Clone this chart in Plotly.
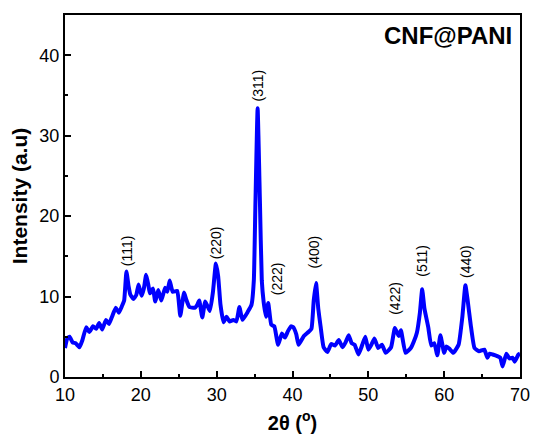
import plotly.graph_objects as go

# XRD pattern of CNF@PANI (2-theta in degrees, intensity in a.u.)
two_theta = [
    10.0, 10.3, 10.6, 11.0, 11.4, 11.9, 12.3, 12.8, 13.2, 13.7,
    14.1, 14.5, 14.9, 15.4, 15.8, 16.2, 16.7, 17.1, 17.5, 17.8,
    18.1, 18.4, 18.6, 19.0, 19.4, 19.7, 20.1, 20.4, 20.7, 21.0,
    21.2, 21.6, 21.9, 22.3, 22.7, 23.2, 23.5, 23.8, 24.2, 24.8,
    25.2, 25.7, 26.0, 26.4, 27.1, 27.4, 27.7, 28.1, 28.5, 29.1,
    29.5, 29.9, 30.2, 30.5, 30.9, 31.3, 31.7, 32.2, 32.6, 33.0,
    33.4, 34.1, 34.6, 34.9, 35.1, 35.4, 35.7, 35.95, 36.2, 36.5,
    36.8, 37.2, 37.6, 38.1, 38.6, 39.0, 39.4, 39.8, 40.1, 40.5,
    40.8, 41.5, 42.1, 42.5, 42.8, 43.1, 43.4, 43.7, 44.1, 44.6,
    45.1, 45.6, 46.1, 46.6, 47.0, 47.4, 47.8, 48.2, 48.7, 49.2,
    49.6, 50.0, 50.4, 50.8, 51.3, 51.8, 52.3, 53.0, 53.5, 54.0,
    54.3, 54.9, 55.6, 56.0, 56.4, 56.8, 57.1, 57.4, 57.9, 58.3,
    58.7, 59.1, 59.5, 60.0, 60.3, 60.7, 61.2, 61.9, 62.4, 62.8,
    63.1, 63.5, 64.0, 64.6, 65.3, 65.7, 66.0, 66.4, 67.0, 67.4,
    67.7, 68.2, 68.6, 69.0, 69.3, 69.8, 70.0,
]
intensity = [
    3.6, 4.8, 5.0, 4.3, 4.2, 3.7, 4.6, 6.2, 5.6, 6.3,
    6.0, 6.7, 5.9, 7.1, 6.6, 7.5, 8.6, 8.0, 8.8, 9.5,
    13.1, 11.2, 10.3, 9.7, 10.2, 11.5, 10.1, 11.0, 12.7, 11.4,
    10.4, 11.0, 9.4, 10.8, 9.5, 11.1, 10.6, 12.0, 10.6, 10.7,
    7.6, 10.5, 9.6, 8.7, 8.6, 8.9, 9.5, 7.4, 9.4, 8.2,
    10.5, 14.1, 12.5, 9.0, 6.8, 7.5, 6.9, 7.1, 6.9, 8.7,
    7.1, 8.1, 9.0, 12.0, 21.0, 33.4, 22.0, 12.0, 9.3, 7.5,
    9.2, 6.5, 6.3, 4.0, 5.4, 4.9, 5.7, 6.3, 6.2, 5.3,
    4.0, 5.1, 5.6, 6.0, 9.5, 11.7, 8.5, 6.3, 3.7, 3.1,
    4.1, 3.9, 4.6, 3.7, 4.3, 5.2, 4.2, 4.0, 2.8, 4.0,
    5.0, 3.4, 4.0, 4.8, 3.6, 4.0, 3.0, 3.7, 6.1, 5.1,
    5.8, 3.0, 3.6, 4.4, 5.5, 8.0, 10.9, 8.5, 6.2, 3.9,
    4.2, 2.7, 5.2, 3.0, 3.8, 3.5, 3.0, 4.0, 7.5, 11.4,
    9.5, 6.5, 3.6, 3.2, 3.4, 2.4, 2.9, 2.8, 2.6, 2.4,
    1.3, 2.9, 2.3, 2.4, 1.9, 2.8, 2.9,
]
assert len(two_theta) == len(intensity)

# Miller indices of the indexed reflections and where their labels sit
hkl_labels = ["(111)", "(220)", "(311)", "(222)", "(400)", "(422)", "(511)", "(440)"]
hkl_x = [18.1, 29.9, 35.4, 38.0, 42.85, 53.6, 57.15, 62.85]
hkl_y = [15.7, 16.75, 36.2, 12.2, 15.5, 9.8, 14.4, 14.4]

x_ticks = [10, 20, 30, 40, 50, 60, 70]
y_ticks = [0, 10, 20, 30, 40]

fig = go.Figure()
fig.add_trace(go.Scatter(
    x=two_theta, y=intensity, mode="lines",
    line=dict(color="#0000FF", width=4, shape="spline", smoothing=0.4),
    showlegend=False,
))

for lab, hx, hy in zip(hkl_labels, hkl_x, hkl_y):
    fig.add_annotation(
        x=hx, y=hy, xref="x", yref="y", text=lab, textangle=-90,
        showarrow=False, font=dict(family="Arial", size=14, color="black"),
    )

fig.add_annotation(
    x=1, y=1, xref="paper", yref="paper", xanchor="right", yanchor="top",
    xshift=-6, yshift=-5, text="<b>CNF@PANI</b>", showarrow=False,
    font=dict(family="Arial", size=24, color="black"),
)

axis_common = dict(
    showline=True, linecolor="black", linewidth=2, mirror=True,
    ticks="inside", ticklen=6, tickwidth=2, tickcolor="black",
    showgrid=False, zeroline=False,
    tickfont=dict(family="Arial", size=18, color="black"),
    minor=dict(ticks="inside", ticklen=3, tickwidth=1.5, tickcolor="black"),
)

fig.update_xaxes(
    range=[10, 70], tickvals=x_ticks, minor_dtick=5, minor_tick0=10,
    title=dict(text="<b>2θ (<sup>o</sup>)</b>",
               font=dict(family="Arial", size=20, color="black"), standoff=12),
    **axis_common,
)
fig.update_yaxes(
    range=[0, 45], tickvals=y_ticks, minor_dtick=5, minor_tick0=0,
    title=dict(text="<b>Intensity (a.u)</b>",
               font=dict(family="Arial", size=21, color="black"), standoff=6),
    **axis_common,
)

fig.update_layout(
    width=540, height=441,
    margin=dict(l=65, r=10, t=15, b=64),
    paper_bgcolor="white", plot_bgcolor="white",
)

fig.write_html("out.html")
